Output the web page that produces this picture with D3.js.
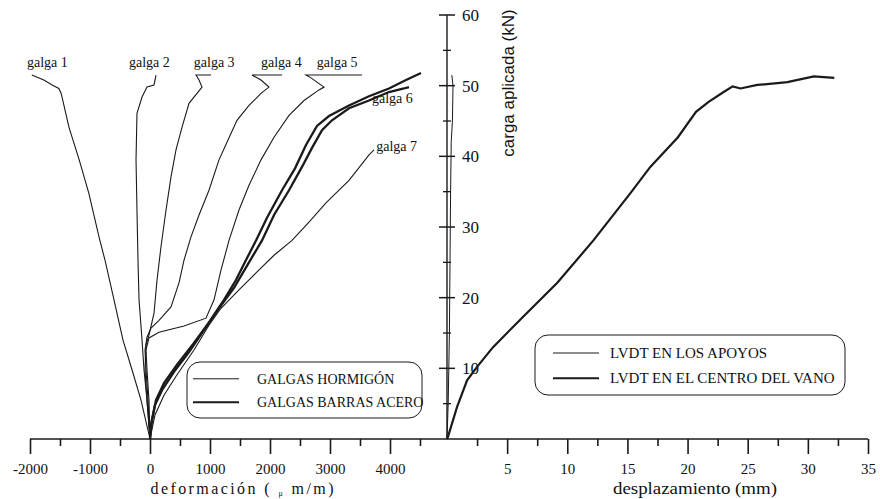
<!DOCTYPE html>
<html>
<head>
<meta charset="utf-8">
<script src="https://cdn.jsdelivr.net/npm/d3@7"></script>
<style>
  body { margin: 0; background: #fff; }
  text { font-family: "Liberation Serif", "Times New Roman", serif; fill: #111; }
</style>
</head>
<body>
<div id="chart"></div>
<script>
// strain gauges: [deformacion (um/m), carga (kN)]
const galga1 = [[0,0],[-150,5.5],[-300,9.8],[-450,14.0],[-600,19.7],[-750,25.3],[-850,28.6],[-1020,34.8],[-1180,39.5],[-1350,44.1],[-1480,48.9],[-1520,49.6],[-1630,50.1],[-1770,50.8],[-1970,51.5]];
const galga2 = [[0,0],[-50,5.5],[-100,9.8],[-133,14.0],[-183,19.7],[-200,25.3],[-217,32.4],[-233,39.5],[-217,46.1],[-133,48.4],[-50,49.8],[67,50.1],[100,51.5]];
const galga3 = [[0,0],[-50,5.5],[-83,9.8],[-67,13.3],[-17,14.7],[67,17.8],[117,22.5],[183,27.2],[267,32.4],[350,37.1],[433,40.9],[533,44.1],[650,47.5],[867,49.8],[817,50.8],[767,51.5],[1017,51.5]];
const galga4 = [[0,0],[-33,5.5],[-67,9.8],[-83,12.6],[-50,14.4],[17,15.7],[150,16.8],[350,18.7],[483,22.1],[567,25.3],[683,28.6],[817,31.7],[983,35.2],[1150,39.5],[1300,42.3],[1450,45.1],[1650,47.2],[1850,48.9],[1983,49.8],[1850,50.8],[1700,51.5],[2200,51.5]];
const galga5 = [[0,0],[-17,5.5],[-50,9.8],[-67,12.6],[-17,14.3],[150,15.1],[567,16.0],[933,17.1],[1067,19.7],[1183,23.9],[1317,28.1],[1483,32.4],[1650,35.9],[1850,39.5],[2067,42.7],[2317,45.8],[2567,47.9],[2817,49.4],[2900,49.8],[2683,51.1],[2600,51.5],[3533,51.5]];
const galga6a = [[0,0],[33,2.7],[100,5.5],[233,7.9],[450,10.5],[733,13.6],[983,16.5],[1233,19.7],[1433,22.5],[1617,25.6],[1767,28.1],[1950,31.3],[2200,35.2],[2417,38.3],[2600,41.6],[2783,44.3],[2983,45.7],[3317,47.2],[3650,48.5],[3983,49.6],[4267,50.8],[4517,51.8]];
const galga6b = [[0,0],[17,2.0],[83,4.8],[200,6.9],[400,9.5],[650,12.3],[900,15.4],[1150,18.5],[1400,21.4],[1650,25.0],[1867,28.1],[2067,31.7],[2317,35.2],[2533,38.5],[2700,41.2],[2867,43.7],[3033,45.1],[3317,46.8],[3650,47.9],[3983,49.1],[4233,49.6],[4317,49.8]];
const galga7 = [[0,0],[83,3.4],[233,6.2],[450,9.1],[733,12.6],[983,16.1],[1183,18.5],[1483,21.1],[1767,23.5],[2067,26.0],[2367,28.1],[2650,30.7],[2933,33.4],[3317,36.6],[3650,40.2],[3733,40.9]];

// LVDT: [desplazamiento (mm), carga (kN)]
const lvdtApoyos = [[0,0],[0.1,5],[0.2,15],[0.25,25],[0.3,35],[0.35,42],[0.45,45],[0.5,50],[0.4,51.5]];
const lvdtCentro = [[0,0],[0.08,0.3],[0.83,4.5],[1.67,8.3],[2.5,10.2],[3.83,13.0],[6.33,17.3],[9.17,22.1],[12.17,28.1],[15.25,34.8],[16.9,38.5],[19.2,42.7],[20.7,46.3],[21.75,47.7],[23.0,49.1],[23.75,49.9],[24.4,49.6],[25.8,50.1],[28.3,50.5],[30.5,51.3],[32.2,51.1]];

const strainTicks = [-2000, -1000, 0, 1000, 2000, 3000, 4000];
const strainMinor = [-1500, -500, 500, 1500, 2500, 3500, 4500];
const dispTicks = [5, 10, 15, 20, 25, 30, 35];
const dispMinor = [2.5, 7.5, 12.5, 17.5, 22.5, 27.5, 32.5];
const loadTicks = [10, 20, 30, 40, 50, 60];
const loadMinor = [5, 15, 25, 35, 45, 55];

const galgaLabels = ["galga 1", "galga 2", "galga 3", "galga 4", "galga 5", "galga 6", "galga 7"];
const galgaLabelPos = [[-2050, 52.6], [-350, 52.6], [730, 52.6], [1850, 52.6], [2780, 52.6], [3700, 47.6], [3770, 40.8]];

const svg = d3.select('#chart').append('svg').attr('width', 880).attr('height', 499);

const xL = d3.scaleLinear().domain([-2000, 4950]).range([30, 447]);
const xR = d3.scaleLinear().domain([0, 35]).range([447, 868]);
const y = d3.scaleLinear().domain([0, 60]).range([439, 15]);

const lineL = d3.line().x(d => xL(d[0])).y(d => y(d[1]));
const lineR = d3.line().x(d => xR(d[0])).y(d => y(d[1]));

const ink = "#1a1a1a";

// x axes (ticks only, domain drawn by hand)
svg.append('g').attr('transform', `translate(0,${y(0)})`)
  .call(d3.axisBottom(xL).tickValues(strainTicks).tickSize(15).tickPadding(9).tickFormat(d => String(d)));
svg.append('g').attr('transform', `translate(0,${y(0)})`)
  .call(d3.axisBottom(xL).tickValues(strainMinor).tickSize(7).tickFormat(""));
svg.append('g').attr('transform', `translate(0,${y(0)})`)
  .call(d3.axisBottom(xR).tickValues(dispTicks).tickSize(15).tickPadding(9));
svg.append('g').attr('transform', `translate(0,${y(0)})`)
  .call(d3.axisBottom(xR).tickValues(dispMinor).tickSize(7).tickFormat(""));
svg.selectAll('.domain').remove();
svg.selectAll('.tick line').attr('stroke', ink).attr('stroke-width', 1.6);
svg.selectAll('.tick text').attr('font-size', 15).attr('font-family', '"Liberation Serif", serif').attr('fill', ink);

svg.append('line').attr('x1', xL(-2000)).attr('x2', xR(35)).attr('y1', y(0)).attr('y2', y(0))
  .attr('stroke', ink).attr('stroke-width', 1.4);

// y axis in the middle
svg.append('line').attr('x1', xR(0)).attr('x2', xR(0)).attr('y1', y(0)).attr('y2', y(60))
  .attr('stroke', ink).attr('stroke-width', 1.4);
svg.selectAll('.ymaj').data(loadTicks).enter().append('line')
  .attr('x1', xR(0) - 8).attr('x2', xR(0) + 8).attr('y1', d => y(d)).attr('y2', d => y(d))
  .attr('stroke', ink).attr('stroke-width', 1.5);
svg.selectAll('.ymin').data(loadMinor).enter().append('line')
  .attr('x1', xR(0) - 4).attr('x2', xR(0) + 4).attr('y1', d => y(d)).attr('y2', d => y(d))
  .attr('stroke', ink).attr('stroke-width', 1.3);
svg.selectAll('.ylab').data(loadTicks).enter().append('text')
  .attr('x', xR(0) + 15).attr('y', d => y(d) + 6).attr('font-size', 17).text(d => d);

// axis titles
const tL = svg.append('text').attr('x', 242).attr('y', 494).attr('text-anchor', 'middle')
  .attr('font-size', 16).attr('textLength', 183).attr('lengthAdjust', 'spacing');
tL.append('tspan').text('deformación ( ');
tL.append('tspan').attr('font-size', 8).attr('dy', 2).text('μ');
tL.append('tspan').attr('dy', -2).text(' m/m)');
svg.append('text').attr('x', 695).attr('y', 494).attr('text-anchor', 'middle')
  .attr('font-size', 16).attr('textLength', 164).attr('lengthAdjust', 'spacingAndGlyphs')
  .text('desplazamiento (mm)');
svg.append('text').attr('transform', 'translate(514,83) rotate(-90)').attr('text-anchor', 'middle')
  .attr('font-size', 17).style('font-family', '"Liberation Sans", Arial, sans-serif')
  .text('carga aplicada (kN)');

// curves
const thin = [galga1, galga2, galga3, galga4, galga5, galga7];
svg.selectAll('.thin').data(thin).enter().append('path')
  .attr('d', lineL).attr('fill', 'none').attr('stroke', ink).attr('stroke-width', 1.1);
svg.selectAll('.thick').data([galga6a, galga6b]).enter().append('path')
  .attr('d', lineL).attr('fill', 'none').attr('stroke', ink).attr('stroke-width', 2.3);

svg.append('path').attr('d', lineR(lvdtApoyos)).attr('fill', 'none').attr('stroke', ink).attr('stroke-width', 1);
svg.append('path').attr('d', lineR(lvdtCentro)).attr('fill', 'none').attr('stroke', ink).attr('stroke-width', 2.2);

// gauge labels
svg.selectAll('.glab').data(galgaLabels).enter().append('text')
  .attr('x', (d, i) => xL(galgaLabelPos[i][0])).attr('y', (d, i) => y(galgaLabelPos[i][1]))
  .attr('font-size', 14).text(d => d);

// legends
function legend(x, yTop, w, h, items, sx, tx, fs) {
  const g = svg.append('g');
  g.append('rect').attr('x', x).attr('y', yTop).attr('width', w).attr('height', h).attr('rx', 13)
    .attr('fill', '#fff').attr('stroke', ink).attr('stroke-width', 1);
  items.forEach((it, i) => {
    const ly = yTop + h * (i === 0 ? 0.3 : 0.72);
    g.append('line').attr('x1', sx).attr('x2', sx + 46).attr('y1', ly).attr('y2', ly)
      .attr('stroke', ink).attr('stroke-width', it.w);
    g.append('text').attr('x', tx).attr('y', ly + 5).attr('font-size', fs).text(it.label);
  });
}
legend(187, 362, 235, 56, [{label: 'GALGAS HORMIGÓN', w: 1}, {label: 'GALGAS BARRAS ACERO', w: 2}], 193, 257, 14);
legend(535, 335, 310, 60, [{label: 'LVDT EN LOS APOYOS', w: 1}, {label: 'LVDT EN EL CENTRO DEL VANO', w: 2}], 553, 610, 15);
</script>
</body>
</html>
